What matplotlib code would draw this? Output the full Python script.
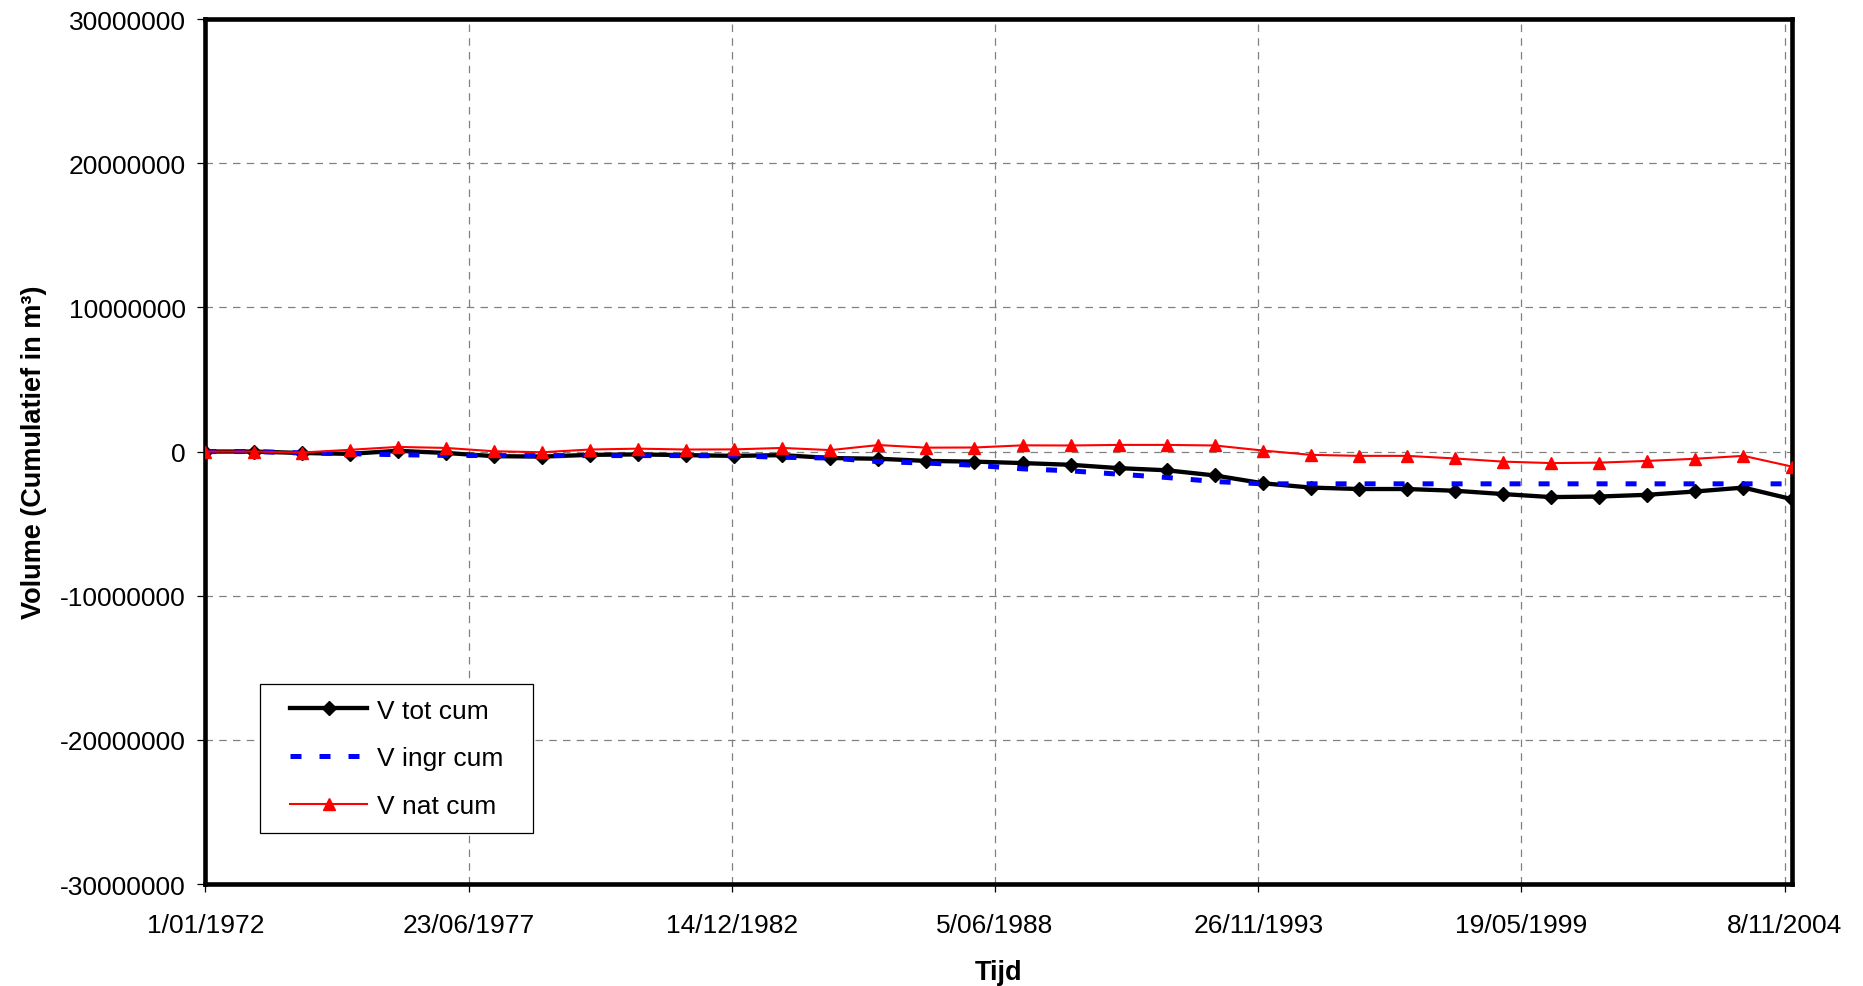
import datetime as dt
import matplotlib
matplotlib.use("Agg")
import matplotlib.pyplot as plt
import matplotlib.dates as mdates
from matplotlib.ticker import FixedLocator, FuncFormatter, MultipleLocator
from matplotlib.legend_handler import HandlerLine2D

plt.rcParams['font.family'] = ['Liberation Sans', 'DejaVu Sans']

# Yearly cumulative volumes (m³), 1 January of each year
years = list(range(1972, 2006))
v_tot_cum = [0, 0, -0.10e6, -0.16e6, 0.05e6, -0.10e6, -0.32e6, -0.35e6, -0.23e6,
             -0.20e6, -0.25e6, -0.30e6, -0.25e6, -0.45e6, -0.50e6, -0.65e6, -0.70e6,
             -0.80e6, -0.92e6, -1.15e6, -1.30e6, -1.66e6, -2.20e6, -2.50e6, -2.60e6, -2.60e6,
             -2.72e6, -2.95e6, -3.16e6, -3.12e6, -3.00e6, -2.77e6, -2.50e6, -3.30e6]
v_ingr_cum = [0, 0, -0.10e6, -0.15e6, -0.22e6, -0.27e6, -0.28e6, -0.28e6, -0.28e6,
              -0.28e6, -0.28e6, -0.30e6, -0.40e6, -0.45e6, -0.70e6, -0.80e6, -0.95e6,
              -1.20e6, -1.34e6, -1.57e6, -1.80e6, -2.08e6, -2.24e6, -2.24e6, -2.24e6, -2.24e6,
              -2.24e6, -2.24e6, -2.24e6, -2.24e6, -2.24e6, -2.24e6, -2.24e6, -2.24e6]
v_nat_cum = [0, 0, -0.07e6, 0.12e6, 0.32e6, 0.25e6, 0.02e6, -0.05e6, 0.14e6,
             0.20e6, 0.14e6, 0.15e6, 0.25e6, 0.10e6, 0.45e6, 0.27e6, 0.28e6,
             0.43e6, 0.42e6, 0.46e6, 0.46e6, 0.42e6, 0.07e6, -0.23e6, -0.30e6, -0.30e6,
             -0.48e6, -0.70e6, -0.80e6, -0.77e6, -0.65e6, -0.50e6, -0.30e6, -1.04e6]

series_labels = ["V tot cum", "V ingr cum", "V nat cum"]
x_label = "Tijd"
y_label = "Volume (Cumulatief in m³)"

dates = [dt.datetime(y, 1, 1) for y in years]
x = mdates.date2num(dates)

FS = 19

fig = plt.figure(figsize=(18.63, 9.87), dpi=100)
ax = fig.add_axes([0.1103, 0.1033, 0.8514, 0.8764])

ax.plot(x, v_tot_cum, color='black', lw=3.1, marker='D', ms=7,
        label=series_labels[0], zorder=3)
ax.plot(x, v_ingr_cum, color='#0000FF', lw=3.6, dashes=(2.2, 3.6),
        dash_capstyle='butt', label=series_labels[1], zorder=4)
ax.plot(x, v_nat_cum, color='#FF0000', lw=1.5, marker='^', ms=8.5,
        label=series_labels[2], zorder=5)

# axes ranges and ticks
start = mdates.date2num(dt.datetime(1972, 1, 1))
ax.set_xlim(start, mdates.date2num(dt.datetime(2005, 1, 1)))
ax.set_ylim(-3e7, 3e7)
ax.xaxis.set_major_locator(FixedLocator([start + 2000 * k for k in range(7)]))
ax.yaxis.set_major_locator(MultipleLocator(1e7))


def date_fmt(v, pos):
    d = mdates.num2date(v)
    return f"{d.day}/{d.month:02d}/{d.year}"


ax.xaxis.set_major_formatter(FuncFormatter(date_fmt))
ax.yaxis.set_major_formatter(FuncFormatter(lambda v, p: f"{int(round(v))}"))

ax.grid(True, color='#808080', lw=0.9, linestyle=(0, (6, 5)))
ax.set_axisbelow(True)

for s in ax.spines.values():
    s.set_linewidth(3.3)
    s.set_color('black')

ax.tick_params(axis='both', direction='out', length=6, width=0.9,
               labelsize=FS, color='black')
ax.tick_params(axis='x', pad=15)
ax.tick_params(axis='y', pad=8)

ax.set_xlabel(x_label, fontsize=19.5, fontweight='bold')
ax.set_ylabel(y_label, fontsize=19.5, fontweight='bold')
ax.xaxis.set_label_coords(0.5, -0.087)
ax.yaxis.set_label_coords(-0.1, 0.5)


class IndentedLine(HandlerLine2D):
    """Line handle drawn with an extra left indent inside its box."""

    def __init__(self, indent, **kw):
        super().__init__(**kw)
        self.indent = indent

    def create_artists(self, legend, orig_handle, xdescent, ydescent,
                       width, height, fontsize, trans):
        return super().create_artists(legend, orig_handle,
                                      xdescent - self.indent, ydescent,
                                      width - self.indent, height,
                                      fontsize, trans)


handles, labels = ax.get_legend_handles_labels()
leg = ax.legend(handles, labels, loc='upper left',
                bbox_to_anchor=(260 / 1863, 1 - 685 / 987, 273 / 1863, 0.0),
                bbox_transform=fig.transFigure, borderaxespad=0, mode='expand',
                fontsize=FS, numpoints=1, handlelength=3.5, handletextpad=0.38,
                labelspacing=0.9, borderpad=0.55, fancybox=False, framealpha=1,
                edgecolor='black',
                handler_map={h: IndentedLine(11.5, numpoints=1) for h in handles})
leg.get_frame().set_linewidth(0.9)

fig.savefig("out.png", dpi=100, facecolor='white')
